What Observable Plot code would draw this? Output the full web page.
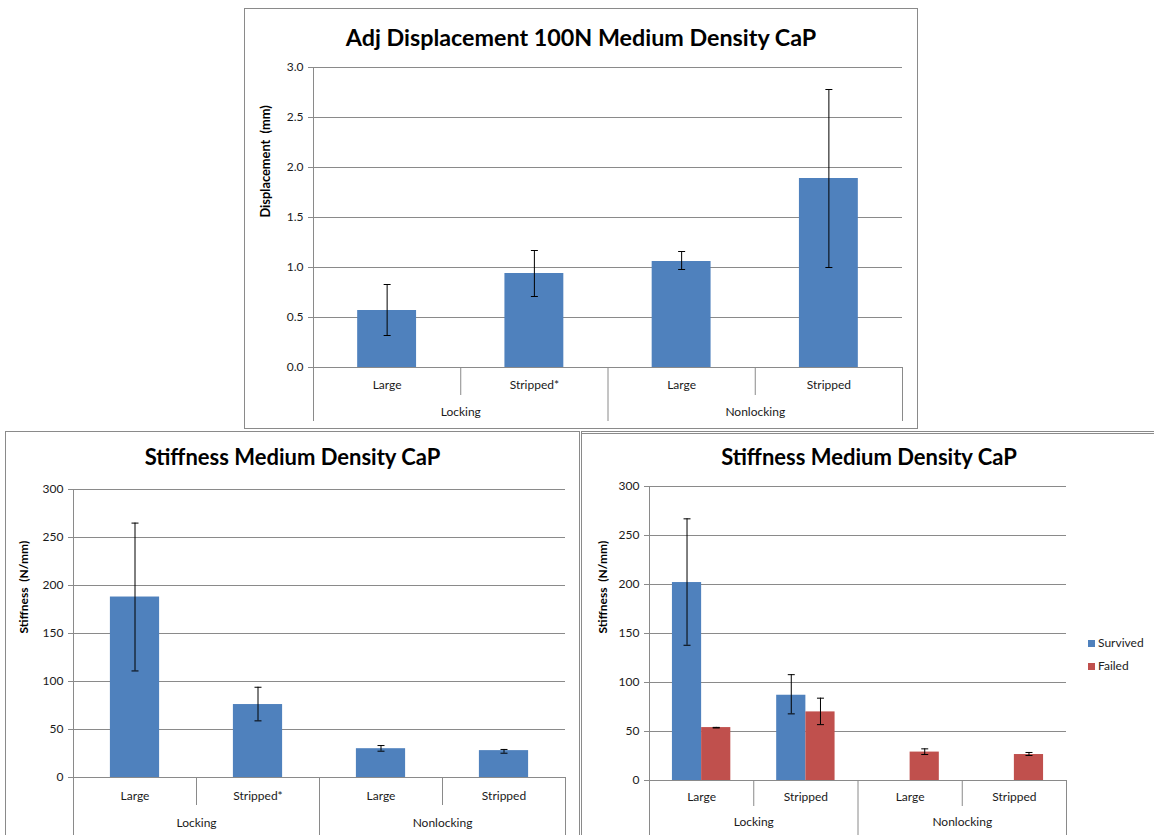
<!DOCTYPE html>
<html><head><meta charset="utf-8">
<script src="https://cdn.jsdelivr.net/npm/d3@7"></script>
<script src="https://cdn.jsdelivr.net/npm/@observablehq/plot@0.6"></script>
<style>
html,body{margin:0;padding:0;background:#fff;overflow:hidden;width:1154px;height:835px;}
.panel{position:absolute;box-sizing:border-box;border:1px solid #8a8a8a;background:#fff;}
.title{position:absolute;left:0;right:0;text-align:center;font-family:Lato,sans-serif;font-weight:bold;font-size:22px;line-height:24px;color:#000;white-space:nowrap;}
.panel svg{position:absolute;left:0;top:0;}
[aria-label="y-axis tick"]{stroke:#8a8a8a;}
.legend{position:absolute;font-family:Lato,sans-serif;font-size:12px;color:#222;}
.legend div{position:absolute;white-space:nowrap;line-height:14px;}
.legend span{display:inline-block;width:7px;height:7px;margin-right:3px;vertical-align:0px;}
</style></head><body>
<div id="p1" class="panel" style="left:244px;top:8px;width:674px;height:421px"><div class="title" style="top:16px;font-size:23.3px">Adj Displacement 100N Medium Density CaP</div></div>
<div id="p2" class="panel" style="left:5px;top:431px;width:575px;height:406px"><div class="title" style="top:13px">Stiffness Medium Density CaP</div></div>
<div id="p3" class="panel" style="left:581px;top:431px;width:576px;height:406px;border-top:3px double #8a8a8a"><div class="title" style="top:11px">Stiffness Medium Density CaP</div></div>
<div class="legend" style="left:1088px;top:636px">
  <div style="top:0"><span style="background:#4F81BD"></span>Survived</div>
  <div style="top:23px"><span style="background:#C0504D"></span>Failed</div>
</div>
<script>
// ---- data ----
const groups = ["Locking", "Locking", "Nonlocking", "Nonlocking"];

const dispCats = ["Large", "Stripped*", "Large", "Stripped"];
const dispMean = [0.57, 0.94, 1.06, 1.89];
const dispLo   = [0.32, 0.71, 0.98, 1.00];
const dispHi   = [0.83, 1.17, 1.16, 2.78];
const dispTicks = [0, 0.5, 1.0, 1.5, 2.0, 2.5, 3.0];

const stiffCats = ["Large", "Stripped*", "Large", "Stripped"];
const stiffMean = [188, 76, 30, 28];
const stiffLo   = [111, 59, 27.4, 25.3];
const stiffHi   = [265, 94, 33.3, 29.2];
const stiffTicks = [0, 50, 100, 150, 200, 250, 300];

const stiff2Cats = ["Large", "Stripped", "Large", "Stripped"];
const survivedMean = [202, 87, null, null];
const survivedLo   = [138, 68, null, null];
const survivedHi   = [267, 108, null, null];
const failedMean = [54, 70, 29, 26.5];
const failedLo   = [53.6, 57, 26.5, 25.5];
const failedHi   = [54.2, 84, 32.3, 28.6];
const seriesNames = ["Survived", "Failed"];

const blue = "#4F81BD", red = "#C0504D", grid = "#8a8a8a", ink = "#1a1a1a";

const cap = {draw(ctx) { ctx.moveTo(-3.5, 0); ctx.lineTo(3.5, 0); }};

function rowsFor(keys, cats, mean, lo, hi) {
  return keys.map((k, i) => ({key: k, cat: cats[i], mean: mean[i], lo: lo[i], hi: hi[i]}))
             .filter(d => d.mean != null);
}

function drawChart(el, cfg) {
  const {cats, series, yTicks, yFormat, yLabel, W, H, ml, mr, mt, mb,
         catDy, groupDy, shortLen, longLen, labelDx, labelSize, frac} = cfg;
  const keys = cats.map((c, i) => groups[i] + "|" + c);
  const pi = 1 - frac, po = pi / 2;
  const yDomain = [yTicks[0], yTicks[yTicks.length - 1]];
  let step, bw;
  try {
    const sc = Plot.scale({x: {type: "band", domain: keys, range: [ml, W - mr], paddingInner: pi, paddingOuter: po, round: false}});
    step = sc.step; bw = sc.bandwidth;
  } catch (e) {}
  if (!(step > 0)) {
    const sb = d3.scaleBand(keys, [ml, W - mr]).paddingInner(pi).paddingOuter(po);
    step = sb.step(); bw = sb.bandwidth();
  }
  const n = series.length;
  const marks = [];
  // gridlines
  marks.push(Plot.ruleY(yTicks, {stroke: grid, strokeWidth: 1}));
  // hierarchical category axis separators
  const bounds = keys.map((k, i) => ({key: k, first: i === 0, long: i === 0 || groups[i] !== groups[i - 1]}));
  marks.push(Plot.ruleX(bounds.filter(d => d.long), {x: "key", y1: d => d.first ? yDomain[1] : yDomain[0], y2: () => yDomain[0], dx: -step / 2, insetBottom: -longLen, stroke: grid}));
  marks.push(Plot.ruleX(bounds.filter(d => !d.long), {x: "key", y1: () => yDomain[0], y2: () => yDomain[0], dx: -step / 2, insetBottom: -shortLen, stroke: grid}));
  marks.push(Plot.ruleX([keys[keys.length - 1]], {x: d => d, y1: () => yDomain[0], y2: () => yDomain[0], dx: step / 2, insetBottom: -longLen, stroke: grid}));
  // category labels
  marks.push(Plot.text(keys.map((k, i) => ({key: k, cat: cats[i]})), {x: "key", text: "cat", frameAnchor: "bottom", dy: catDy, fontSize: 12, fill: ink}));
  // group labels
  const gl = [];
  groups.forEach((g, i) => {
    if (i === 0 || g !== groups[i - 1]) gl.push({name: g, key: keys[i], count: 1});
    else gl[gl.length - 1].count++;
  });
  gl.forEach(g => marks.push(Plot.text([g], {x: "key", text: "name", dx: (g.count - 1) * step / 2, frameAnchor: "bottom", dy: groupDy, fontSize: 12, fill: ink})));
  // bars & error bars
  series.forEach((s, si) => {
    const rows = rowsFor(keys, cats, s.mean, s.lo, s.hi);
    marks.push(Plot.barY(rows, {x: "key", y: "mean", fill: s.color, insetLeft: si * bw / n, insetRight: (n - 1 - si) * bw / n}));
    const dx = (si - (n - 1) / 2) * bw / n;
    marks.push(Plot.ruleX(rows, {x: "key", y1: "lo", y2: "hi", dx, stroke: "#000", strokeWidth: 1}));
    marks.push(Plot.dot(rows, {x: "key", y: "lo", dx, symbol: cap, stroke: "#000", fill: "none", strokeWidth: 1}));
    marks.push(Plot.dot(rows, {x: "key", y: "hi", dx, symbol: cap, stroke: "#000", fill: "none", strokeWidth: 1}));
  });
  // y axis
  marks.push(Plot.axisY(yTicks, {tickSize: 5, tickPadding: 5, tickFormat: yFormat, fontSize: 12, color: ink, label: null}));
  marks.push(Plot.text([yLabel], {text: d => d, frameAnchor: "left", dx: labelDx, rotate: -90, fontWeight: "bold", fontSize: labelSize, fill: "#000"}));

  const svg = Plot.plot({
    width: W, height: H,
    marginLeft: ml, marginRight: mr, marginTop: mt, marginBottom: mb,
    style: {fontFamily: "Lato, sans-serif", fontSize: "12px", background: "transparent", overflow: "visible"},
    x: {type: "band", domain: keys, paddingInner: pi, paddingOuter: po, round: false, axis: null},
    y: {domain: yDomain},
    marks
  });
  el.appendChild(svg);
}

drawChart(document.getElementById("p1"), {
  cats: dispCats,
  series: [{mean: dispMean, lo: dispLo, hi: dispHi, color: blue}],
  yTicks: dispTicks, yFormat: d3.format(".1f"), yLabel: "Displacement  (mm)",
  W: 672, H: 419, ml: 68, mr: 15, mt: 58, mb: 61,
  catDy: 21, groupDy: 48, shortLen: 28, longLen: 54, labelDx: -48, labelSize: 12.8, frac: 0.4
});
drawChart(document.getElementById("p2"), {
  cats: stiffCats,
  series: [{mean: stiffMean, lo: stiffLo, hi: stiffHi, color: blue}],
  yTicks: stiffTicks, yFormat: d3.format("d"), yLabel: "Stiffness  (N/mm)",
  W: 573, H: 404, ml: 67, mr: 14, mt: 57, mb: 59,
  catDy: 22, groupDy: 49, shortLen: 28, longLen: 62, labelDx: -49, labelSize: 12, frac: 0.4
});
drawChart(document.getElementById("p3"), {
  cats: stiff2Cats,
  series: [
    {name: seriesNames[0], mean: survivedMean, lo: survivedLo, hi: survivedHi, color: blue},
    {name: seriesNames[1], mean: failedMean, lo: failedLo, hi: failedHi, color: red}
  ],
  yTicks: stiffTicks, yFormat: d3.format("d"), yLabel: "Stiffness  (N/mm)",
  W: 574, H: 402, ml: 67, mr: 90, mt: 52, mb: 56,
  catDy: 20, groupDy: 45, shortLen: 26, longLen: 62, labelDx: -46, labelSize: 12, frac: 0.56
});
</script>
</body></html>
